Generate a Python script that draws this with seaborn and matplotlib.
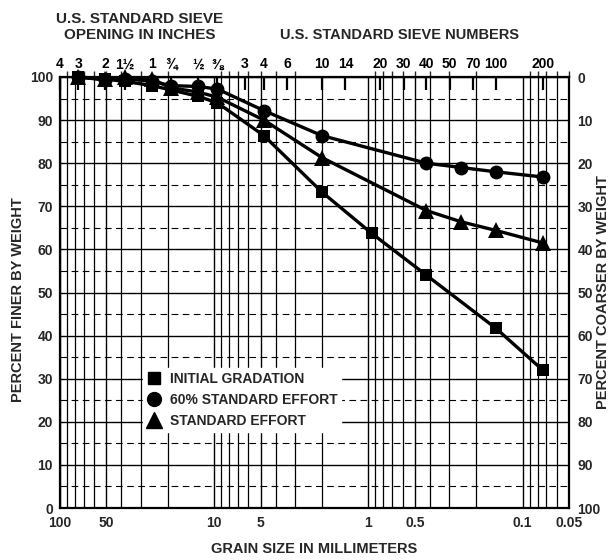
import numpy as np
import pandas as pd
import matplotlib
matplotlib.use("Agg")
import matplotlib.pyplot as plt
import seaborn as sns
from matplotlib.lines import Line2D
from matplotlib.ticker import FixedLocator

# ---------------- data ----------------
initial_size = [76.2, 50.8, 38.1, 25.4, 19.05, 12.7, 9.525, 4.76, 2.0, 0.95, 0.42, 0.149, 0.074]
initial_pct = [100, 99.5, 99, 98, 97, 95.5, 94, 86.4, 73.3, 63.7, 54, 41.7, 32]

effort60_size = [76.2, 50.8, 38.1, 25.4, 19.05, 12.7, 9.525, 4.76, 2.0, 0.42, 0.25, 0.149, 0.074]
effort60_pct = [100, 99.3, 99.6, 99, 98, 97.8, 97.2, 92.2, 86.4, 80, 79, 78, 76.8]

standard_size = [76.2, 50.8, 38.1, 25.4, 19.05, 12.7, 9.525, 4.76, 2.0, 0.42, 0.25, 0.149, 0.074]
standard_pct = [100, 99.5, 100, 99.5, 97.5, 96.5, 95.3, 90, 81.3, 69, 66.4, 64.4, 61.5]

series_names = ["INITIAL GRADATION", "60% STANDARD EFFORT", "STANDARD EFFORT"]
series_markers = ["s", "o", "^"]

sieve_mm = [100, 76.2, 50.8, 38.1, 25.4, 19.05, 12.7, 9.525, 6.35, 4.76, 3.36,
            2.0, 1.41, 0.84, 0.59, 0.42, 0.297, 0.21, 0.149, 0.074]
sieve_labels = ["4", "3", "2", "1½", "1", "¾", "½", "⅜", "3", "4", "6",
                "10", "14", "20", "30", "40", "50", "70", "100", "200"]

mm_ticks = [100, 50, 10, 5, 1, 0.5, 0.1, 0.05]
mm_labels = ["100", "50", "10", "5", "1", "0.5", "0.1", "0.05"]
pct_ticks = list(range(0, 101, 10))

# ---------------- frame ----------------
sns.set_theme(style="white")
plt.rcParams["font.family"] = ["Liberation Sans", "DejaVu Sans"]
plt.rcParams["font.weight"] = "bold"

df = pd.concat([
    pd.DataFrame({"size": initial_size, "pct": initial_pct, "series": series_names[0]}),
    pd.DataFrame({"size": effort60_size, "pct": effort60_pct, "series": series_names[1]}),
    pd.DataFrame({"size": standard_size, "pct": standard_pct, "series": series_names[2]}),
])

W, H = 615, 560
fig = plt.figure(figsize=(W / 100, H / 100), dpi=100)
L, R, T, B = 60, 569, 77, 508
ax = fig.add_axes([L / W, 1 - B / H, (R - L) / W, (B - T) / H])

ax.set_xscale("log")
sns.lineplot(data=df, x="size", y="pct", style="series", markers=dict(zip(series_names, series_markers)),
             dashes=False, color="black", linewidth=2.4, markersize=10, markeredgewidth=0,
             legend=False, ax=ax, zorder=5)
for ln in ax.lines:
    if ln.get_marker() == "^":
        ln.set_markersize(11)
    elif ln.get_marker() == "s":
        ln.set_markersize(9)
    ln.set_clip_on(False)

ax.set_xlim(100, 0.05)
ax.set_ylim(0, 100)
ax.set_xlabel("")
ax.set_ylabel("")

# gridlines
minor = []
for e in range(-2, 3):
    for k in range(1, 10):
        v = k * 10.0 ** e
        if 0.05 <= v <= 100 and v not in mm_ticks:
            minor.append(v)
ax.set_xticks(mm_ticks, labels=mm_labels)
ax.xaxis.set_minor_locator(FixedLocator(minor))
ax.set_yticks(pct_ticks)
ax.yaxis.set_minor_locator(FixedLocator(list(range(5, 100, 10))))
ax.grid(True, which="major", axis="both", color="black", linewidth=1.0)
ax.grid(True, which="minor", axis="x", color="black", linewidth=0.9)
ax.grid(True, which="minor", axis="y", color="black", linewidth=0.8, linestyle=(0, (6, 4)))
ax.set_axisbelow(True)
ax.tick_params(axis="both", which="both", length=0, labelsize=10, pad=5)
ax.tick_params(axis="x", pad=6)
for s in ax.spines.values():
    s.set_color("black")
    s.set_linewidth(1.6)

# right axis
ax2 = ax.secondary_yaxis("right", functions=(lambda y: 100 - y, lambda y: 100 - y))
ax2.set_yticks(pct_ticks)
ax2.tick_params(length=0, labelsize=10, pad=6)

# top sieve axis
ax3 = ax.secondary_xaxis("top")
ax3.set_xticks(sieve_mm, labels=sieve_labels)
ax3.tick_params(direction="in", length=9, width=1.6, labelsize=10, pad=4, colors="black")

# axis titles
fig.text(18 / W, 1 - 300 / H, "PERCENT FINER BY WEIGHT", rotation=90, ha="center", va="center", fontsize=10.5)
fig.text(603 / W, 1 - 292 / H, "PERCENT COARSER BY WEIGHT", rotation=90, ha="center", va="center", fontsize=10.5)
fig.text(314 / W, 1 - 549 / H, "GRAIN SIZE IN MILLIMETERS", ha="center", va="center", fontsize=10.5)
fig.text(140 / W, 1 - 19 / H, "U.S. STANDARD SIEVE", ha="center", va="center", fontsize=11)
fig.text(140 / W, 1 - 35 / H, "OPENING IN INCHES", ha="center", va="center", fontsize=11)
fig.text(400 / W, 1 - 35 / H, "U.S. STANDARD SIEVE NUMBERS", ha="center", va="center", fontsize=10.5)

# legend
handles = [Line2D([], [], marker=m, linestyle="none", color="black", markersize=ms)
           for m, ms in zip(series_markers, [9, 10, 11])]
leg = ax.legend(handles, series_names, loc="upper left", bbox_to_anchor=(0.15, 0.342),
                frameon=True, fancybox=False, facecolor="white", edgecolor="white",
                framealpha=1, fontsize=10, handletextpad=0.6, labelspacing=0.5,
                borderpad=0.3, handlelength=1.0)
leg.set_zorder(10)

fig.savefig("out.png", dpi=100)
